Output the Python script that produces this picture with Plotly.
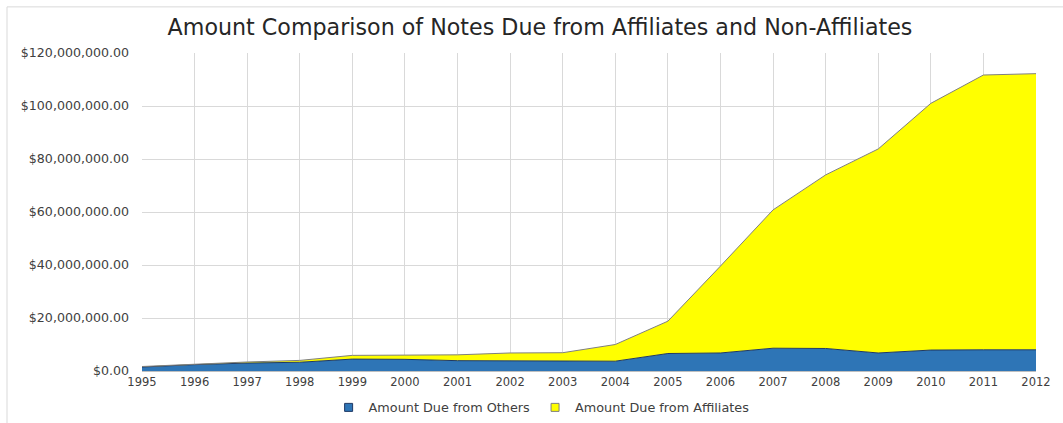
import plotly.graph_objects as go

years = list(range(1995, 2013))
due_from_others = [1.5e6, 2.4e6, 3.0e6, 3.3e6, 4.5e6, 4.4e6, 3.9e6, 3.9e6, 3.7e6,
                   3.7e6, 6.6e6, 6.8e6, 8.6e6, 8.5e6, 6.8e6, 7.9e6, 8.0e6, 8.0e6]
due_from_affiliates = [0.2e6, 0.2e6, 0.4e6, 0.7e6, 1.4e6, 1.6e6, 2.2e6, 2.9e6, 3.2e6,
                       6.3e6, 12.2e6, 32.8e6, 52.2e6, 65.5e6, 77.0e6, 93.1e6, 103.7e6, 104.2e6]

series = [
    ("Amount Due from Others", due_from_others, "#2E75B6", "#1F3864"),
    ("Amount Due from Affiliates", due_from_affiliates, "#FFFF00", "#7F7F7F"),
]

font = "DejaVu Sans"

fig = go.Figure()
for name, values, fill, edge in series:
    fig.add_trace(go.Scatter(
        x=years, y=values, name=name,
        stackgroup="one", mode="lines",
        line=dict(color=edge, width=1),
        fillcolor=fill, showlegend=False,
    ))
# square legend keys
for name, values, fill, edge in series:
    fig.add_trace(go.Scatter(
        x=[None], y=[None], name=name, mode="markers",
        marker=dict(symbol="square", size=8, color=fill,
                    line=dict(color=edge, width=1)),
        showlegend=True,
    ))

fig.update_layout(
    width=1063, height=423,
    paper_bgcolor="white", plot_bgcolor="white",
    margin=dict(l=142, r=27, t=53, b=52, autoexpand=False),
    font=dict(family=font, size=11, color="#404040"),
    title=dict(text="Amount Comparison of Notes Due from Affiliates and Non-Affiliates",
               x=0.508, xanchor="center", y=0.935, yanchor="middle",
               font=dict(family=font, size=22.2, color="#262626")),
    showlegend=True,
    legend=dict(orientation="h", x=0.447, xanchor="center", y=-0.115, yanchor="middle",
                font=dict(family=font, size=12.8, color="#404040"),
                traceorder="normal", itemwidth=30, bgcolor="rgba(0,0,0,0)"),
    # chart-area frame (open at the right and bottom edges of the page)
    shapes=[dict(type="rect", xref="paper", yref="paper",
                 x0=-0.151, x1=1.05, y0=-0.2, y1=1.145,
                 line=dict(color="#D9D9D9", width=1))],
)
fig.update_xaxes(
    range=[1995, 2012], tickmode="linear", tick0=1995, dtick=1,
    showgrid=True, gridcolor="#D9D9D9", gridwidth=1,
    showline=True, linecolor="#BFBFBF", ticks="", zeroline=False,
    tickfont=dict(size=11.5, color="#404040"),
)
fig.update_yaxes(
    range=[0, 120e6], tickmode="linear", tick0=0, dtick=20e6,
    tickprefix="$", tickformat=",.2f",
    showgrid=True, gridcolor="#D9D9D9", gridwidth=1,
    zeroline=False, showline=False, ticks="", ticklabelstandoff=12,
    tickfont=dict(size=12.6, color="#404040"),
)

fig.write_html("out.html")
